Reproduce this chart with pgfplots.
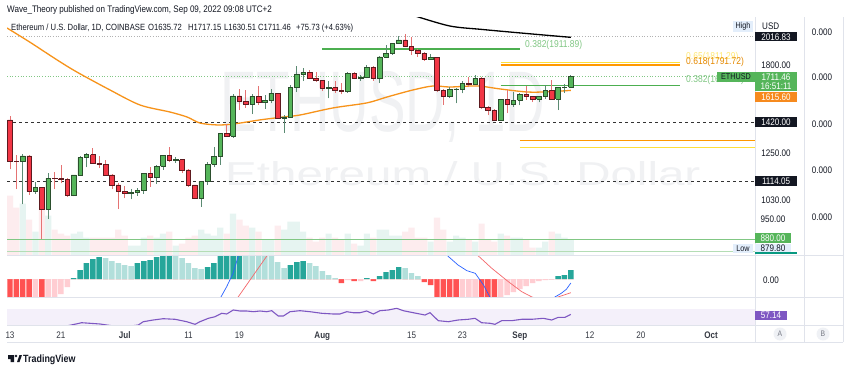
\documentclass[border=0pt]{standalone}
\usepackage{pgfplots}
\pgfplotsset{compat=1.18}
\usepackage{pgfplotstable}
\usepackage{graphicx}
\usepackage{fontspec}
\setmainfont{Liberation Sans}[FakeStretch=0.85]
\newcommand{\fs}[1]{\fontsize{#1}{#1}\selectfont}

\definecolor{tvtext}{HTML}{131722}
\definecolor{tvgray}{HTML}{787B86}
\definecolor{sep}{HTML}{E0E3EB}
\definecolor{wm}{HTML}{F0F1F3}
\definecolor{cup}{HTML}{55B55A}
\definecolor{cupedge}{HTML}{2B4F2D}
\definecolor{cupwick}{HTML}{5B8A72}
\definecolor{cdn}{HTML}{F23645}
\definecolor{cdnedge}{HTML}{5E1A1F}
\definecolor{cdnwick}{HTML}{E57373}
\definecolor{volup}{HTML}{E6F4F1}
\definecolor{voldn}{HTML}{FDECEE}
\definecolor{ma50}{HTML}{F7931A}
\definecolor{fibg}{HTML}{4CAF50}
\definecolor{fibo}{HTML}{FF9800}
\definecolor{fiby}{HTML}{FFE03B}
\definecolor{fibglbl}{HTML}{81C784}
\definecolor{hdark}{HTML}{26A69A}
\definecolor{hlight}{HTML}{B2DFDB}
\definecolor{hred}{HTML}{FF5252}
\definecolor{hpink}{HTML}{FFCDD2}
\definecolor{macdb}{HTML}{2962FF}
\definecolor{macds}{HTML}{F4676B}
\definecolor{rsi}{HTML}{7E57C2}
\definecolor{rsiband}{HTML}{F4F0FA}
\definecolor{lblue}{HTML}{E3EEFB}
\definecolor{lowteal}{HTML}{089981}
\definecolor{orlbl}{HTML}{F68A1E}
\definecolor{boxblack}{HTML}{131722}

% day index d: 0 = 13 Jun 2022
\pgfplotstableread{
d o h l c v
0 1432 1455 1170 1209 60
1 1209 1242 1080 1207 48
2 1207 1245 1014 1236 52
3 1236 1240 1055 1069 36
4 1069 1112 1060 1088 24
5 1088 1090 880 995 48
6 995 1152 955 1128 40
7 1128 1158 1080 1127 26
8 1127 1190 1105 1125 22
9 1125 1131 1046 1052 20
10 1052 1146 1048 1144 22
11 1144 1235 1140 1228 24
12 1228 1252 1180 1243 18
13 1243 1276 1198 1200 18
14 1200 1235 1175 1193 18
15 1193 1215 1140 1144 18
16 1144 1150 1080 1098 18
17 1098 1105 995 1068 26
18 1068 1095 1040 1060 20
19 1060 1078 1035 1066 10
20 1066 1085 1050 1073 10
21 1073 1155 1060 1150 18
22 1150 1180 1090 1134 20
23 1134 1192 1102 1186 18
24 1186 1242 1168 1238 22
25 1238 1282 1205 1215 24
26 1215 1232 1202 1217 10
27 1217 1222 1152 1168 12
28 1168 1170 1090 1098 18
29 1098 1100 1036 1038 20
30 1038 1118 1005 1113 26
31 1113 1205 1100 1194 22
32 1194 1282 1180 1232 20
33 1232 1360 1192 1356 28
34 1356 1410 1337 1340 22
35 1340 1590 1332 1580 42
36 1580 1625 1490 1545 36
37 1545 1620 1505 1525 30
38 1525 1590 1466 1576 28
39 1576 1645 1523 1537 24
40 1537 1585 1500 1551 16
41 1551 1628 1532 1598 16
42 1598 1600 1438 1443 30
43 1443 1462 1360 1450 26
44 1450 1650 1447 1637 34
45 1637 1785 1604 1727 34
46 1727 1768 1678 1738 24
47 1738 1755 1690 1697 18
48 1697 1740 1675 1680 14
49 1680 1686 1611 1631 18
50 1631 1680 1564 1634 22
51 1634 1680 1600 1617 18
52 1617 1665 1589 1608 16
53 1608 1742 1600 1733 22
54 1733 1738 1689 1697 12
55 1697 1717 1681 1701 10
56 1701 1792 1697 1776 22
57 1776 1786 1680 1700 18
58 1700 1858 1665 1852 26
59 1852 1941 1852 1880 26
60 1880 1961 1870 1958 20
61 1958 2020 1955 1985 20
62 1985 2030 1925 1936 24
63 1936 2010 1868 1905 28
64 1905 1912 1854 1878 18
65 1878 1890 1825 1833 18
66 1833 1876 1830 1848 14
67 1848 1850 1604 1613 38
68 1613 1628 1525 1575 26
69 1575 1640 1566 1620 14
70 1620 1630 1532 1625 20
71 1625 1680 1596 1662 18
72 1662 1705 1640 1658 16
73 1658 1719 1652 1697 14
74 1697 1707 1496 1508 32
75 1508 1515 1460 1490 16
76 1490 1500 1425 1432 14
77 1432 1562 1425 1555 22
78 1555 1620 1472 1525 20
79 1525 1606 1512 1553 18
80 1553 1596 1520 1587 18
81 1587 1646 1555 1577 16
82 1577 1581 1540 1557 8
83 1557 1579 1538 1577 8
84 1577 1650 1560 1618 14
85 1618 1686 1555 1560 24
86 1560 1640 1490 1635 22
87 1635 1658 1600 1636 18
88 1635.72 1717.15 1630.51 1711.46 16
}\ohlc

\pgfplotstableread{
d p
-0.47 2084
3.1 1968
7.4 1829
10.5 1741
15.7 1618
20.4 1522
25.1 1479
27.8 1449
29.8 1414
32.5 1403
35 1408
39.2 1432
42.8 1449
45.5 1461
50.7 1504
56 1535
59.2 1573
63.2 1618
66.4 1645
69 1638
73.3 1645
76.9 1625
81.1 1605
84.3 1606
88 1615.6
}\maslow

\pgfplotstableread{
d p
63.5 2190
69 2101
74 2072
79.5 2045
84 2024
88 2006
}\maslong

% MACD histogram (k: 1 rising>0, 2 falling>0, 3 falling<0, 4 rising<0)
\pgfplotstableread{
d m k
0 -18 3
1 -18 3
2 -18 3
3 -18 3
4 -18 4
5 -18 3
6 -18 4
7 -18 4
8 -15 4
9 -8 4
10 0.8 1
11 9 1
12 16 1
13 20 1
14 22 1
15 21 2
16 18 2
17 16 2
18 14 2
19 13 2
20 16 1
21 18 1
22 19 1
23 22 1
24 24 1
25 24 1
26 24 2
27 21 2
28 16 2
29 11 2
30 10 2
31 12 1
32 16 1
33 24 1
34 24 1
35 24 1
36 24 1
37 24 2
38 24 2
39 24 2
40 24 2
41 24 2
42 17 2
43 11 2
44 14 1
45 17 1
46 18 1
47 16 2
48 13 2
49 8 2
50 4 2
51 1 2
52 -4 3
53 -1 4
54 -2 3
55 -2 4
56 1 1
57 -2 3
58 3 1
59 7 1
60 9 1
61 12 1
62 11 2
63 6 2
64 3 2
65 -3 3
66 -6 3
67 -18 3
68 -18 3
69 -18 3
70 -18 3
71 -18 4
72 -18 4
73 -18 4
74 -18 3
75 -18 3
76 -18 3
77 -18 4
78 -16 4
79 -13 4
80 -10 4
81 -7 4
82 -4 4
83 -2 4
84 -1 4
85 -0.5 4
86 3 1
87 4 1
88 9 1
}\macdhist

\pgfplotstableread{
d m
29 -60
31 -40
32 -30
33.1 -18
34 -7.7
35 5.7
35.8 22.3
37 45
45 60
55 55
62 55
66 45
68 30
68.7 23
70.3 14
71.7 8.3
73 5.7
74.3 -6
75.3 -18
77 -32
82 -35
85.5 -18
86.5 -14.3
87.3 -10.3
88 -4
}\macdline

\pgfplotstableread{
d m
30 -50
35.8 -18
40.3 23
43 40
55 52
68 40
73.5 23
75.6 10.7
78.2 -2.7
80.3 -12.7
81.9 -18
84 -22
86 -18
88 -13.7
}\signalline

\pgfplotstableread{
d r
0 24
3 26
5 22
7 27
9 28
10.36 32.6
11.25 35.9
12.55 34.4
14.12 32.6
15.17 30
16.5 27
18 26
19.2 28
20.13 30
20.92 38.5
22.49 42.9
24.05 46.2
25.89 44.7
27.73 38.5
29.03 31.8
29.81 38.5
31.12 47.2
32.17 51.3
33.22 60.1
34.0 58.3
35.04 68.6
36.09 66
37.14 66
38.18 64.2
39.23 66
40.28 64.2
41.06 66.8
42.1 53.1
42.89 53.1
43.94 64.2
45.5 66.8
47.07 64.2
48.91 60.1
50.73 58.3
51.78 58.3
52.83 64.2
53.87 61.6
54.92 61.6
55.97 66
57.01 58.3
58.06 66.8
59.36 68.6
60.68 72.9
61.71 66.8
63.28 61.6
65.12 55.7
65.9 61.6
67.2 41.1
68.77 38.5
70.34 42.9
71.91 44.7
72.96 47.2
74.01 35.9
75.32 34.4
76.1 31.8
77.15 41.1
78.72 41.1
80.29 44.7
81.86 44.7
83.68 47.2
85.0 42.9
86.04 49.8
87.09 49.8
88 57.14
}\rsitab

\pgfplotsset{panel/.style={scale only axis, anchor=south west, width=748pt,
  xmin=-0.47, xmax=116.9, clip=true}}

\begin{document}
\begin{tikzpicture}[x=1pt,y=1pt]
\fill[white] (0,0) rectangle (850,365);
\path[use as bounding box] (0,0) rectangle (850,365);

% watermark
\node[anchor=base west, inner sep=0pt, text=wm] at (220,233) {\resizebox{325pt}{60pt}{ETHUSD, 1D}};
\node[anchor=base west, inner sep=0pt, text=wm] at (225,180) {\resizebox{475pt}{24pt}{Ethereum / U.S. Dollar}};

% volume
\begin{axis}[panel, hide axis, at={(7pt,109.5pt)}, height=238pt, ymin=0, ymax=238]
\addplot[ybar, bar shift=0pt, bar width=0.97, fill=volup, draw=none]
  table[x=d, y expr={\thisrow{c}>=\thisrow{o} ? \thisrow{v} : 0}] {\ohlc};
\addplot[ybar, bar shift=0pt, bar width=0.97, fill=voldn, draw=none]
  table[x=d, y expr={\thisrow{c}<\thisrow{o} ? \thisrow{v} : 0}] {\ohlc};
\end{axis}

% price
\begin{axis}[panel, hide axis, at={(7pt,109.5pt)}, height=238pt, ymode=log, ymin=823.5, ymax=2175.3]
% horizontal levels
\addplot[gray!60, dotted, line width=0.7pt] coordinates {(-0.47,2016.83) (116.9,2016.83)};
\addplot[fibglbl, dotted, line width=0.7pt] coordinates {(-0.47,1711.46) (116.9,1711.46)};
\addplot[black!80, dashed, dash pattern=on 3pt off 3pt, line width=0.8pt] coordinates {(-0.47,1420) (116.9,1420)};
\addplot[black!80, dashed, dash pattern=on 3pt off 3pt, line width=0.8pt] coordinates {(-0.47,1114.05) (116.9,1114.05)};
\addplot[fibglbl, line width=0.8pt] coordinates {(-0.47,880) (116.9,880)};
\addplot[fibglbl!60, line width=0.8pt] coordinates {(-0.47,836) (116.9,836)};
% fib levels
\addplot[fibg, line width=1.5pt] coordinates {(48.96,1911.89) (80,1911.89)};
\addplot[fiby, line width=1.5pt] coordinates {(77,1811) (105.1,1811)};
\addplot[fibo, line width=1.5pt] coordinates {(77,1791.72) (105.1,1791.72)};
\addplot[fibg, line width=1.5pt] coordinates {(77,1647) (105.1,1647)};
\addplot[fibo, line width=1.5pt] coordinates {(80,1316) (116.9,1316)};
\addplot[fiby, line width=1.5pt] coordinates {(80,1279) (116.9,1279)};
% moving averages
\addplot[ma50, line width=1.3pt, smooth] table[x=d, y=p] {\maslow};
\addplot[black, line width=1.3pt, smooth] table[x=d, y=p] {\maslong};
% candles
\pgfplotsforeachungrouped \i in {0,...,88}{%
  \pgfplotstablegetelem{\i}{d}\of\ohlc \let\vd\pgfplotsretval
  \pgfplotstablegetelem{\i}{o}\of\ohlc \let\vo\pgfplotsretval
  \pgfplotstablegetelem{\i}{h}\of\ohlc \let\vh\pgfplotsretval
  \pgfplotstablegetelem{\i}{l}\of\ohlc \let\vl\pgfplotsretval
  \pgfplotstablegetelem{\i}{c}\of\ohlc \let\vc\pgfplotsretval
  \pgfmathtruncatemacro\isup{\vc>=\vo}%
  \ifnum\isup=1 \def\bcol{cup}\def\ecol{cupedge}\def\wcol{cupwick}%
  \else \def\bcol{cdn}\def\ecol{cdnedge}\def\wcol{cdnwick}\fi
  \pgfmathsetmacro\xl{\vd-0.36}%
  \pgfmathsetmacro\xr{\vd+0.36}%
  \edef\temp{\noexpand\addplot[draw=\wcol, line width=0.8pt] coordinates {(\vd,\vl) (\vd,\vh)};
    \noexpand\addplot[fill=\bcol, draw=\ecol, line width=0.6pt] coordinates {(\xl,\vo) (\xr,\vo) (\xr,\vc) (\xl,\vc) (\xl,\vo)};}%
  \temp
}
\end{axis}

% MACD
\begin{axis}[panel, hide axis, at={(7pt,68pt)}, height=41.5pt, ymin=-18, ymax=23.5]
\addplot[ybar, bar shift=0pt, bar width=0.86, fill=hdark, draw=none] table[x=d, y expr={\thisrow{k}==1 ? \thisrow{m} : 0}] {\macdhist};
\addplot[ybar, bar shift=0pt, bar width=0.86, fill=hlight, draw=none] table[x=d, y expr={\thisrow{k}==2 ? \thisrow{m} : 0}] {\macdhist};
\addplot[ybar, bar shift=0pt, bar width=0.86, fill=hred, draw=none] table[x=d, y expr={\thisrow{k}==3 ? \thisrow{m} : 0}] {\macdhist};
\addplot[ybar, bar shift=0pt, bar width=0.86, fill=hpink, draw=none] table[x=d, y expr={\thisrow{k}==4 ? \thisrow{m} : 0}] {\macdhist};
\addplot[macdb, line width=0.7pt] table[x=d, y=m] {\macdline};
\addplot[macds, line width=0.7pt] table[x=d, y=m] {\signalline};
\end{axis}

% RSI + date axis
\begin{axis}[panel, at={(7pt,40pt)}, height=28pt, ymin=30, ymax=102,
  axis line style={draw=none}, ytick=\empty, major tick length=0pt,
  xtick={0,8,18,28,36,49,63,71,80,91,99,110},
  xticklabels={13,21,\textbf{Jul},11,19,\textbf{Aug},15,23,\textbf{Sep},12,20,\textbf{Oct}},
  xticklabel style={font=\fs{9.5}, text=tvtext!85, anchor=base, yshift=-13pt}]
\fill[rsiband] (axis cs:-0.47,30) rectangle (axis cs:116.9,70);
\addplot[rsi, line width=1.1pt] table[x=d, y=r] {\rsitab};
\end{axis}

% separators
\draw[sep, line width=0.8pt] (755,23) -- (755,347.5);
\draw[sep, line width=0.8pt] (804,23) -- (804,347.5);
\draw[sep, line width=0.8pt] (843,23) -- (843,347.5);
\draw[sep, line width=0.8pt] (7,109.5) -- (843,109.5);
\draw[sep, line width=0.8pt] (7,68) -- (843,68);
\draw[sep, line width=0.8pt] (7,40) -- (843,40);
\draw[sep, line width=0.8pt] (7,23) -- (843,23);

% header
\node[anchor=base west, inner sep=0pt, text=tvtext, font=\fs{9.5}] at (7,352) {Wave\_Theory published on TradingView.com, Sep 09, 2022 09:08 UTC+2};
\node[anchor=base west, inner sep=0pt, text=tvtext, font=\fs{9}] at (11,334.5) {Ethereum / U.S. Dollar, 1D, COINBASE};
\node[anchor=base west, inner sep=0pt, text=tvtext, font=\fs{9}] at (148,334.5) {O1635.72};
\node[anchor=base west, inner sep=0pt, text=tvtext, font=\fs{9}] at (188,334.5) {H1717.15};
\node[anchor=base west, inner sep=0pt, text=tvtext, font=\fs{9}] at (224,334.5) {L1630.51};
\node[anchor=base west, inner sep=0pt, text=tvtext, font=\fs{9}] at (258,334.5) {C1711.46};
\node[anchor=base west, inner sep=0pt, text=tvtext, font=\fs{9}] at (296,334.5) {+75.73 (+4.63\%)};

% fib labels
\node[anchor=west, inner sep=0pt, text=fibglbl, font=\fs{10}] at (525,320.5) {0.382(1911.89)};
\node[anchor=west, inner sep=0pt, text=fiby!70!white, font=\fs{10}] at (686,308) {0.65(1811.29)};
\node[anchor=west, inner sep=0pt, text=fibo!90!black, font=\fs{10}] at (686,303) {0.618(1791.72)};
\node[anchor=west, inner sep=0pt, text=fibglbl, font=\fs{10}] at (686,285) {0.382(1646.73)};

% right price scale
\fill[lblue] (733,333) rectangle (753,343.5);
\node[text=tvtext, font=\fs{8.5}, inner sep=0pt] at (743,338.3) {High};
\node[anchor=west, text=tvtext, font=\fs{9.5}, inner sep=0pt] at (762,339) {USD};
\fill[boxblack] (755,323.5) rectangle (797,332.5);
\node[text=white, font=\fs{9.5}, inner sep=0pt] at (776,328) {2016.83};
\node[text=tvtext, font=\fs{9.5}, inner sep=0pt] at (776,300) {1800.00};
\fill[cup] (717,283) rectangle (755,293);
\node[text=tvtext, font=\fs{8.5}, inner sep=0pt] at (736,288) {ETHUSD};
\fill[cup] (755,274) rectangle (797,293);
\node[text=white, font=\fs{9.5}, inner sep=0pt] at (776,288) {1711.46};
\node[text=white, font=\fs{9.5}, inner sep=0pt] at (776,279) {16:51:11};
\fill[orlbl] (755,263) rectangle (797,273);
\node[text=white, font=\fs{9.5}, inner sep=0pt] at (776,268) {1615.60};
\fill[boxblack] (755,238) rectangle (797,248);
\node[text=white, font=\fs{9.5}, inner sep=0pt] at (776,243) {1420.00};
\node[text=tvtext, font=\fs{9.5}, inner sep=0pt] at (776,212) {1250.00};
\fill[boxblack] (755,179) rectangle (797,189);
\node[text=white, font=\fs{9.5}, inner sep=0pt] at (776,184) {1114.05};
\node[text=tvtext, font=\fs{9.5}, inner sep=0pt] at (776,165) {1030.00};
\node[text=tvtext, font=\fs{9.5}, inner sep=0pt] at (773,146) {950.00};
\fill[cup] (755,122) rectangle (791,132);
\node[text=white, font=\fs{9.5}, inner sep=0pt] at (773,127) {880.00};
\fill[lblue] (733,112) rectangle (753,121.5);
\node[text=tvtext, font=\fs{8.5}, inner sep=0pt] at (743,116.7) {Low};
\fill[lblue] (755,112) rectangle (791,121.5);
\node[text=tvtext, font=\fs{9.5}, inner sep=0pt] at (773,116.7) {879.80};
\draw[lowteal, line width=1.2pt] (755,112) -- (797,112);
\node[text=tvtext, font=\fs{9.5}, inner sep=0pt] at (771,85) {0.00};
\fill[rsi] (755,45) rectangle (787,54);
\node[text=white, font=\fs{9.5}, inner sep=0pt] at (771,49.5) {57.14};
\foreach \yy in {333,287.5,241,195,148}{\node[text=tvtext, font=\fs{9.5}, inner sep=0pt] at (822,\yy) {0.000};}
\fill[sep!50] (780,31) circle (6.5);
\node[text=tvgray, font=\fs{8}, inner sep=0pt] at (780,31) {A};
\fill[sep!50] (823,31) circle (6.5);
\node[text=tvgray, font=\fs{8}, inner sep=0pt] at (823,31) {B};

% logo
\fill[tvtext] (8,6) rectangle (14,10) (10.5,3) rectangle (14,10);
\fill[tvtext] (16,9) circle (1.4);
\fill[tvtext] (17,3) -- (19.5,10) -- (22,10) -- (19.5,3) -- cycle;
\node[anchor=base west, inner sep=0pt, text=tvtext, font=\fs{10.5}\bfseries] at (23,3) {TradingView};
\end{tikzpicture}
\end{document}
